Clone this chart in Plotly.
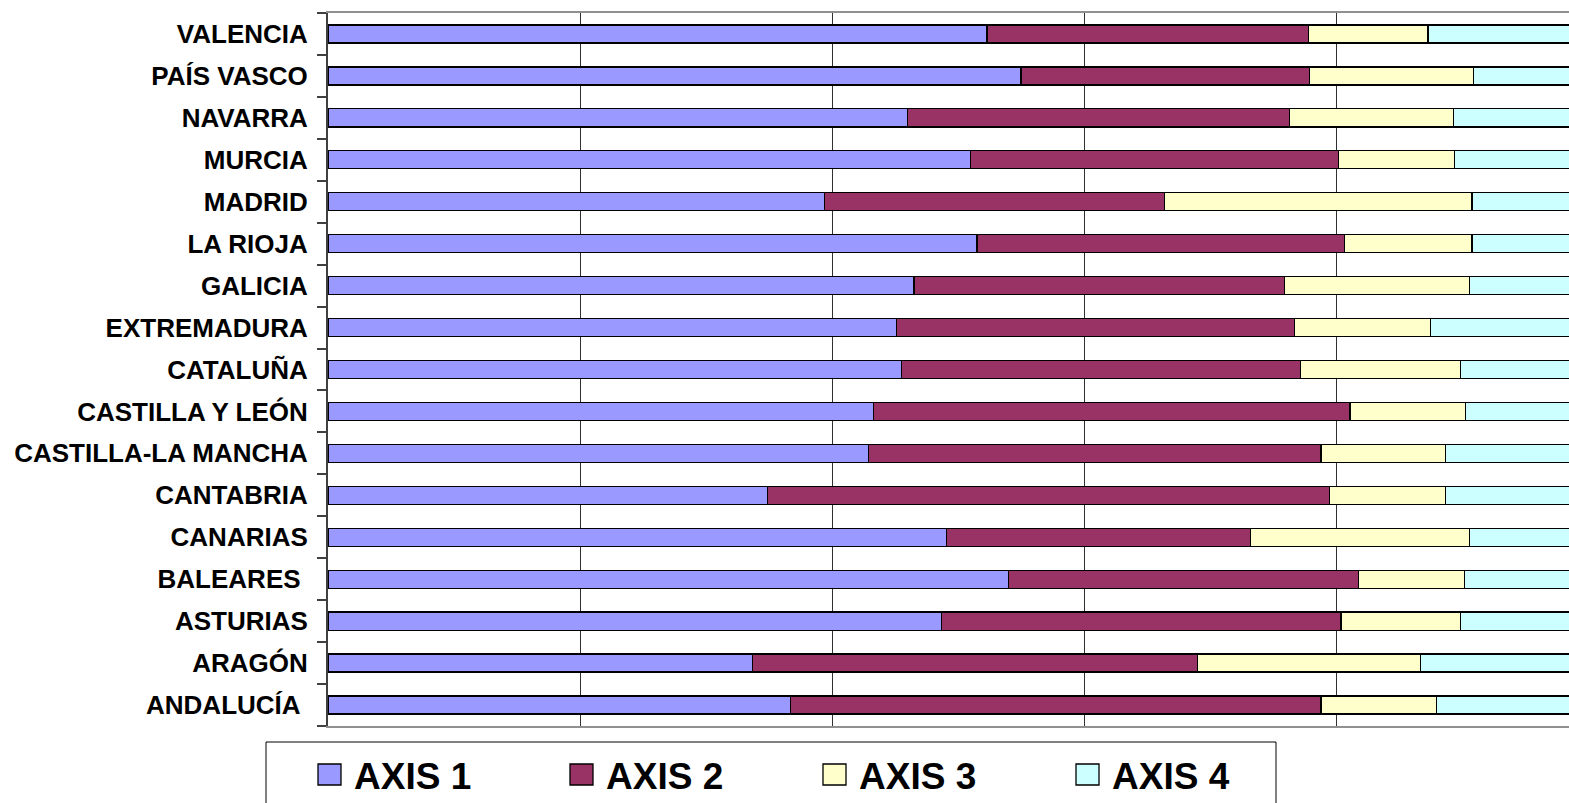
import plotly.graph_objects as go

# Categories, bottom to top
regions = ["ANDALUCÍA", "ARAGÓN", "ASTURIAS", "BALEARES", "CANARIAS", "CANTABRIA",
           "CASTILLA-LA MANCHA", "CASTILLA Y LEÓN", "CATALUÑA", "EXTREMADURA",
           "GALICIA", "LA RIOJA", "MADRID", "MURCIA", "NAVARRA", "PAÍS VASCO", "VALENCIA"]
tick_labels = ["ANDALUCÍA\u00a0", "ARAGÓN", "ASTURIAS", "BALEARES\u00a0", "CANARIAS", "CANTABRIA",
               "CASTILLA-LA MANCHA", "CASTILLA Y LEÓN", "CATALUÑA", "EXTREMADURA",
               "GALICIA", "LA RIOJA", "MADRID", "MURCIA", "NAVARRA", "PAÍS VASCO", "VALENCIA"]

# Percent shares (100% stacked)
axis1 = [36.7, 33.7, 48.7, 54.0, 49.1, 34.9, 42.9, 43.3, 45.5, 45.1, 46.5, 51.5, 39.4, 51.0, 46.0, 55.0, 52.3]
axis2 = [42.1, 35.3, 31.7, 27.8, 24.1, 44.6, 35.9, 37.8, 31.7, 31.6, 29.4, 29.2, 27.0, 29.2, 30.3, 22.9, 25.5]
axis3 = [9.2, 17.7, 9.5, 8.4, 17.4, 9.2, 9.9, 9.2, 12.7, 10.8, 14.7, 10.1, 24.4, 9.2, 13.0, 13.0, 9.5]
axis4 = [12.0, 13.3, 10.1, 9.8, 9.4, 11.3, 11.3, 9.7, 10.1, 12.5, 9.4, 9.2, 9.2, 10.6, 10.7, 9.1, 12.7]

series_names = ["AXIS 1", "AXIS 2", "AXIS 3", "AXIS 4"]
series_values = [axis1, axis2, axis3, axis4]
series_colors = ["#9999FF", "#993366", "#FFFFCC", "#CCFFFF"]

# Page body margin is removed by post_script below, so figure fills the window.
W, H = 1569, 803
plot_left, plot_top, plot_bottom = 328, 13, 726
L, R, T, B = plot_left, 0, plot_top, H - plot_bottom
PW = W - L - R
PH = H - T - B
px_per_pct = 12.6


def px_x(px):
    return (px - L) / PW


def px_y(py):
    return (H - B - py) / PH


fig = go.Figure()
for name, vals, color in zip(series_names, series_values, series_colors):
    fig.add_trace(go.Bar(
        y=regions, x=vals, orientation="h", name=name,
        marker=dict(color=color, line=dict(color="#000000", width=1.3)),
        showlegend=False,
    ))

# Manual legend (page pixel positions)
shapes = [dict(type="rect", xref="paper", yref="paper",
               x0=px_x(266), x1=px_x(1276), y0=px_y(742), y1=px_y(830),
               line=dict(color="#000000", width=1), fillcolor="rgba(0,0,0,0)")]
annotations = []
leg_x = [318, 570, 823, 1076]
for x0, name, color in zip(leg_x, series_names, series_colors):
    shapes.append(dict(type="rect", xref="paper", yref="paper",
                       x0=px_x(x0), x1=px_x(x0 + 23), y0=px_y(764), y1=px_y(785),
                       line=dict(color="#000000", width=1.3), fillcolor=color))
    annotations.append(dict(xref="paper", yref="paper", x=px_x(x0 + 34), y=px_y(776),
                            xanchor="left", yanchor="middle", showarrow=False, text=name,
                            font=dict(family="Liberation Sans, Arial", size=37, color="#000000",
                                      weight="bold")))

fig.update_layout(
    width=W, height=H,
    barmode="stack", bargap=0.57,
    margin=dict(l=L, r=R, t=T, b=B, pad=0),
    plot_bgcolor="#FFFFFF", paper_bgcolor="#FFFFFF",
    font=dict(family="Liberation Sans, Arial", color="#000000"),
    shapes=shapes, annotations=annotations,
    showlegend=False,
)
fig.update_xaxes(
    range=[0, PW / px_per_pct], dtick=20, tick0=0,
    showgrid=True, gridcolor="#303030", gridwidth=1,
    showticklabels=False, zeroline=False,
    showline=True, linecolor="#909090", linewidth=2, mirror=True,
)
fig.update_yaxes(
    type="category", tickvals=regions, ticktext=tick_labels,
    tickson="boundaries", ticks="outside", ticklen=9, tickcolor="#404040", tickwidth=1.5,
    showline=True, linecolor="#404040", linewidth=2,
    showgrid=False, ticklabelstandoff=13,
    tickfont=dict(family="Liberation Sans, Arial", size=26, color="#000000", weight="bold"),
)

page_css = ("document.documentElement.style.margin='0';"
            "document.documentElement.style.overflow='hidden';"
            "document.body.style.margin='0';"
            "document.body.style.overflow='hidden';")
fig.write_html("out.html", post_script=page_css, config={"displayModeBar": False})
